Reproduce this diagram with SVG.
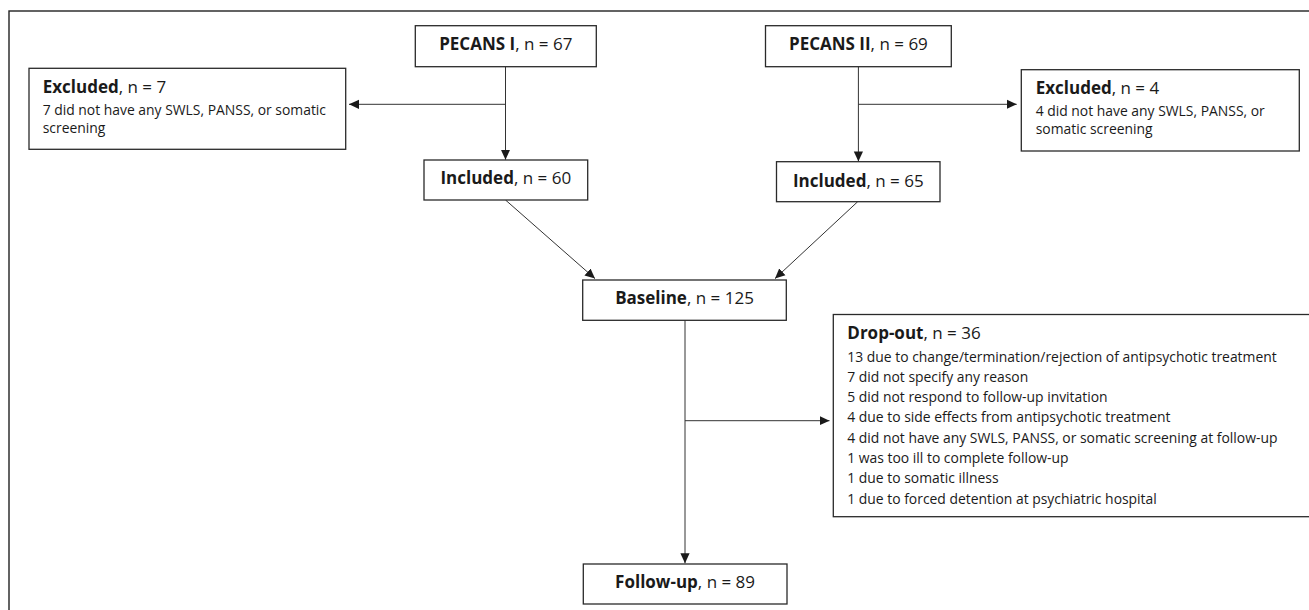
<svg xmlns="http://www.w3.org/2000/svg" width="1309" height="610" viewBox="0 0 1309 610">
<style>
  .box { fill: #ffffff; stroke: #2a2a2a; stroke-width: 1.3; }
  .frame { fill: none; stroke: #222222; stroke-width: 1.4; }
  .conn { fill: none; stroke: #333333; stroke-width: 1; }
  .h { font-family: "Open Sans", "Noto Sans", sans-serif; font-size: 17px; fill: #1a1a1a; }
  .d { font-family: "Open Sans", "Noto Sans", sans-serif; font-size: 13.9px; fill: #1a1a1a; }
  .b { font-weight: bold; }
  .c { text-anchor: middle; }
</style>
<defs>
  <marker id="arrow" markerUnits="userSpaceOnUse" markerWidth="10" markerHeight="10" refX="10" refY="5" orient="auto">
    <path d="M0,0.4 L10,5 L0,9.6 z" fill="#1a1a1a"/>
  </marker>
</defs>
<rect width="1309" height="610" fill="#ffffff"/>
<rect class="frame" x="9" y="11" width="1330" height="640"/>

<g id="connectors">
  <line class="conn" x1="505.5" y1="66.7" x2="505.5" y2="159.7" marker-end="url(#arrow)"/>
  <line class="conn" x1="505.5" y1="104.3" x2="349" y2="104.3" marker-end="url(#arrow)"/>
  <line class="conn" x1="858.4" y1="66.7" x2="858.4" y2="161.4" marker-end="url(#arrow)"/>
  <line class="conn" x1="858.4" y1="104.3" x2="1016.7" y2="104.3" marker-end="url(#arrow)"/>
  <line class="conn" x1="505.5" y1="200" x2="595" y2="278.6" marker-end="url(#arrow)"/>
  <line class="conn" x1="857.7" y1="201.7" x2="775" y2="278.6" marker-end="url(#arrow)"/>
  <line class="conn" x1="685" y1="320.3" x2="685" y2="563.3" marker-end="url(#arrow)"/>
  <line class="conn" x1="685" y1="420.7" x2="829.5" y2="420.7" marker-end="url(#arrow)"/>
</g>

<g id="pecans1">
  <rect class="box" x="415.3" y="25.7" width="181" height="41"/>
  <text class="h c" x="505.8" y="50.3"><tspan class="b">PECANS I</tspan>, n = 67</text>
</g>
<g id="pecans2">
  <rect class="box" x="765.5" y="25.7" width="185.8" height="41"/>
  <text class="h c" x="858.4" y="50.3"><tspan class="b">PECANS II</tspan>, n = 69</text>
</g>
<g id="excluded1">
  <rect class="box" x="29" y="68.3" width="316.7" height="81"/>
  <text class="h" x="42.7" y="92.7"><tspan class="b">Excluded</tspan>, n = 7</text>
  <text class="d" x="42.7" y="115">7 did not have any SWLS, PANSS, or somatic</text>
  <text class="d" x="42.7" y="133.3">screening</text>
</g>
<g id="excluded2">
  <rect class="box" x="1021.3" y="69.7" width="278" height="81.3"/>
  <text class="h" x="1035.7" y="94.3"><tspan class="b">Excluded</tspan>, n = 4</text>
  <text class="d" x="1035.7" y="115.9">4 did not have any SWLS, PANSS, or</text>
  <text class="d" x="1035.7" y="133.5">somatic screening</text>
</g>
<g id="included1">
  <rect class="box" x="424" y="160" width="163.7" height="40"/>
  <text class="h c" x="505.8" y="184.4"><tspan class="b">Included</tspan>, n = 60</text>
</g>
<g id="included2">
  <rect class="box" x="776.5" y="161.7" width="163.5" height="40"/>
  <text class="h c" x="858.3" y="186.6"><tspan class="b">Included</tspan>, n = 65</text>
</g>
<g id="baseline">
  <rect class="box" x="582.7" y="280" width="203.6" height="40.3"/>
  <text class="h c" x="684.5" y="303.8"><tspan class="b">Baseline</tspan>, n = 125</text>
</g>
<g id="dropout">
  <rect class="box" x="833.3" y="314.5" width="500" height="202.2"/>
  <text class="h" x="847.3" y="338.6"><tspan class="b">Drop-out</tspan>, n = 36</text>
  <text class="d" x="847.3" y="361.5">13 due to change/termination/rejection of antipsychotic treatment</text>
  <text class="d" x="847.3" y="381.8">7 did not specify any reason</text>
  <text class="d" x="847.3" y="402.1">5 did not respond to follow-up invitation</text>
  <text class="d" x="847.3" y="422.4">4 due to side effects from antipsychotic treatment</text>
  <text class="d" x="847.3" y="442.7">4 did not have any SWLS, PANSS, or somatic screening at follow-up</text>
  <text class="d" x="847.3" y="463">1 was too ill to complete follow-up</text>
  <text class="d" x="847.3" y="483.3">1 due to somatic illness</text>
  <text class="d" x="847.3" y="503.6">1 due to forced detention at psychiatric hospital</text>
</g>
<g id="followup">
  <rect class="box" x="583.3" y="564" width="203.7" height="40"/>
  <text class="h c" x="685.1" y="587.8"><tspan class="b">Follow-up</tspan>, n = 89</text>
</g>
</svg>
